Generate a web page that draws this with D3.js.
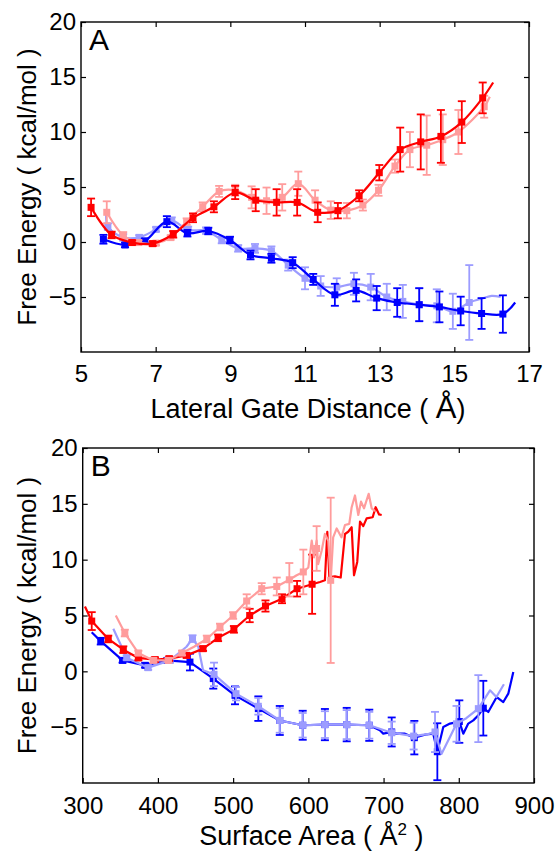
<!DOCTYPE html>
<html><head><meta charset="utf-8">
<script src="https://cdn.jsdelivr.net/npm/d3@7"></script>
<style>body{margin:0;background:#fff} svg{display:block} text{font-family:"Liberation Sans",Arial,Helvetica,sans-serif}</style>
</head><body><svg id="c" width="558" height="853"></svg>
<script>
// ---------- Panel A : Lateral Gate Distance ----------
const aTicksX = [5,7,9,11,13,15,17];
const yTicks = [-5,0,5,10,15,20];

const aRedX = [5.27,5.82,6.37,6.92,7.47,8.0,8.56,9.13,9.68,10.24,10.79,11.34,11.88,12.45,12.99,13.55,14.1,14.64,15.2,15.76];
const aRedY = [3.15,0.64,-0.05,-0.15,0.7,2.2,3.2,4.5,3.8,3.6,3.6,2.7,2.85,4.2,6.3,8.4,9.1,9.6,10.9,13.1];
const aRedE = [0.8,0.3,0.2,0.2,0.3,0.4,0.5,0.6,1.0,1.2,1.2,0.9,0.7,0.5,0.7,2.0,2.5,2.4,1.9,1.4];
const aRedLineX = [5.27,5.82,6.37,6.92,7.47,8.0,8.56,9.13,9.68,10.24,10.79,11.34,11.88,12.45,12.99,13.55,14.1,14.64,15.2,15.76,16.04];
const aRedLineY = [3.15,0.64,-0.05,-0.15,0.7,2.2,3.2,4.5,3.8,3.6,3.6,2.7,2.85,4.2,6.3,8.4,9.1,9.6,10.9,13.1,14.5];

const aPinkX = [5.69,6.13,6.54,7.01,7.4,7.83,8.26,8.7,9.13,9.57,9.97,10.39,10.82,11.27,11.69,12.12,12.55,12.97,13.41,13.81,14.26,14.69,15.11,15.8];
const aPinkY = [2.7,0.6,-0.05,-0.1,0.4,1.85,3.2,4.6,4.7,4.06,3.75,4.06,5.3,3.8,2.9,2.85,3.36,4.7,6.9,8.4,8.8,9.3,10.0,12.3];
const aPinkE = [1.0,0.3,0.2,0.2,0.2,0.3,0.4,0.5,0.5,1.0,1.2,1.2,1.1,0.9,0.8,0.7,0.5,0.5,0.6,1.6,2.7,2.3,2.0,1.0];
const aPinkLineX = [5.69,6.13,6.54,7.01,7.4,7.83,8.26,8.7,9.13,9.57,9.97,10.39,10.82,11.27,11.69,12.12,12.55,12.97,13.41,13.81,14.26,14.69,15.11,15.8,15.95];
const aPinkLineY = [2.7,0.6,-0.05,-0.1,0.4,1.85,3.2,4.6,4.7,4.06,3.75,4.06,5.3,3.8,2.9,2.85,3.36,4.7,6.9,8.4,8.8,9.3,10.0,12.3,13.2];

const aBlueX = [5.6,6.18,6.71,7.3,7.85,8.41,8.99,9.54,10.1,10.67,11.22,11.8,12.37,12.92,13.47,14.06,14.6,15.17,15.73,16.3];
const aBlueY = [0.25,-0.27,0.1,1.85,0.8,1.0,0.18,-1.18,-1.48,-1.88,-3.4,-4.8,-4.4,-5.1,-5.5,-5.7,-5.9,-6.27,-6.5,-6.55];
const aBlueE = [0.4,0.2,0.2,0.5,0.3,0.3,0.3,0.4,0.4,0.5,0.5,1.0,1.0,1.1,1.3,1.5,1.4,1.3,1.4,1.7];
const aBlueLineX = [5.6,6.18,6.71,7.3,7.85,8.41,8.99,9.54,10.1,10.67,11.22,11.8,12.37,12.92,13.47,14.06,14.6,15.17,15.73,16.3,16.63];
const aBlueLineY = [0.25,-0.27,0.1,1.85,0.8,1.0,0.18,-1.18,-1.48,-1.88,-3.4,-4.8,-4.4,-5.1,-5.5,-5.7,-5.9,-6.27,-6.5,-6.55,-5.5];

const aLBlueX = [5.72,6.13,6.56,7.01,7.43,7.87,8.35,8.77,9.21,9.66,10.1,10.55,11.0,11.42,11.85,12.31,12.76,13.19,13.62,14.06,14.53,14.96,15.4];
const aLBlueY = [1.4,0.42,0.42,1.15,1.94,1.1,1.03,0.18,-0.58,-0.58,-0.8,-2.1,-3.3,-4.0,-4.1,-3.8,-4.1,-5.0,-5.4,-5.7,-5.8,-6.3,-5.5];
const aLBlueE = [0.3,0.3,0.2,0.2,0.3,0.3,0.3,0.3,0.3,0.4,0.4,0.5,1.0,0.9,0.8,1.0,1.2,1.2,1.5,1.5,1.5,1.6,3.4];
const aLBlueLineX = [5.68,5.72,6.13,6.56,7.01,7.43,7.87,8.35,8.77,9.21,9.66,10.1,10.55,11.0,11.42,11.85,12.31,12.76,13.19,13.62,14.06,14.53,14.96,15.4,15.78,16.0,16.24];
const aLBlueLineY = [2.75,1.4,0.42,0.42,1.15,1.94,1.1,1.03,0.18,-0.58,-0.58,-0.8,-2.1,-3.3,-4.0,-4.1,-3.8,-4.1,-5.0,-5.4,-5.7,-5.8,-6.3,-5.5,-5.1,-4.9,-5.0];

// ---------- Panel B : Surface Area ----------
const bTicksX = [300,400,500,600,700,800,900];

const bRedX = [312,334,354,374,396,415,438,460,480,501,522,543,565,585,605];
const bRedY = [4.5,2.9,1.94,1.2,1.05,1.13,1.43,2.03,3.0,3.76,5.0,5.85,6.5,7.4,7.8];
const bRedE = [0.8,0.3,0.3,0.2,0.2,0.2,0.2,0.2,0.3,0.3,0.6,0.5,0.4,0.7,2.65];
const bRedLineX = [303,312,334,354,374,396,415,438,460,480,501,522,543,565,585,605,615.5,622,625.2,627.9,635.4,643,648.7,653,657.6,660.7,665,668.7,673,677.5,685.5,689.5,694,697.5];
const bRedLineY = [5.8,4.5,2.9,1.94,1.2,1.05,1.13,1.43,2.03,3.0,3.76,5.0,5.85,6.5,7.4,7.8,8.0,8.15,12.5,8.45,8.5,8.4,12.3,12.5,12.9,8.6,9.8,13.4,13.0,13.7,13.8,14.7,14.05,14.0];

const bPinkX = [356,374,394,414,432,465,482.5,500,518,538,558,574.7,593.3,611,629.7];
const bPinkY = [3.43,1.64,0.98,0.98,1.64,2.9,3.97,5.0,6.3,7.4,7.6,8.2,8.9,11.0,8.15];
const bPinkE = [0.3,0.2,0.2,0.2,0.2,0.3,0.3,0.3,0.6,0.5,0.8,1.5,2.0,2.0,7.4];
const bPinkLineX = [344,356,374,394,414,432,448,465,482.5,500,518,538,558,574.7,584.5,593.3,600,604.5,607.5,611,613,617.7,622,626.5,629.7,633,637.7,644,648.7,654.4,657.6,662,666.4,670,674,680.2,684.2,688.6];
const bPinkLineY = [5.0,3.43,1.64,0.98,0.98,1.64,2.2,2.9,3.97,5.0,6.3,7.4,7.6,8.2,8.6,8.9,9.3,11.7,10.2,11.7,9.6,10.8,12.3,11.7,8.15,12.0,12.8,12.0,13.1,13.2,14.7,15.75,14.0,15.2,14.6,15.9,14.6,14.35];

const bBlueX = [324,353,383,412.5,442.6,473.6,502.5,533.5,562,592.5,622,651,681,710.8,740.9,771.5,800.7,832.6];
const bBlueY = [2.7,0.98,0.54,0.98,0.83,-0.65,-2.15,-3.34,-4.4,-4.83,-4.77,-4.77,-4.83,-5.43,-5.94,-7.2,-4.5,-3.3];
const bBlueE = [0.3,0.2,0.2,0.2,0.75,0.9,0.8,1.1,1.3,1.3,1.4,1.5,1.4,1.3,1.5,2.55,1.9,2.45];
const bBlueLineX = [312,324,353,383,412.5,442.6,473.6,502.5,533.5,562,592.5,622,651,681,695,699.6,710.8,717.4,728.5,740.9,757.3,766,771.5,779.4,788.3,800.7,806,812.6,819.3,826,832.6,839.2,850.4,859.2,865.8,872.5];
const bBlueLineY = [3.5,2.7,0.98,0.54,0.98,0.83,-0.65,-2.15,-3.34,-4.4,-4.83,-4.77,-4.77,-4.83,-5.28,-5.58,-5.43,-5.58,-5.58,-5.94,-5.64,-5.58,-7.2,-4.98,-4.68,-4.5,-5.58,-4.68,-4.39,-3.94,-3.3,-3.64,-2.3,-2.75,-2.0,-0.05];

const bLBlueX = [358.5,387,416,446,474.6,503.8,533.5,562,592.5,622,651,681,710.8,740,768.4,797,826];
const bLBlueY = [1.22,0.33,0.98,2.93,-0.27,-2.0,-3.13,-4.4,-4.83,-4.77,-4.77,-4.83,-5.5,-5.8,-5.43,-4.7,-3.34];
const bLBlueE = [0.2,0.2,0.2,0.3,1.05,0.6,0.75,1.1,1.1,1.2,1.3,1.2,1.0,1.2,1.8,1.6,3.0];
const bLBlueLineX = [340.7,358.5,387,416,438,446,453.7,460,474.6,503.8,533.5,562,592.5,622,651,681,710.8,740,760,768.4,777,797,810,826,841.5,850,860];
const bLBlueLineY = [3.82,1.22,0.33,0.98,2.2,2.93,2.2,0.09,-0.27,-2.0,-3.13,-4.4,-4.83,-4.77,-4.77,-4.83,-5.5,-5.8,-5.6,-5.43,-7.4,-4.7,-4.2,-3.34,-1.7,-2.3,-1.16];

const colRed = "#ff0000", colPink = "#ff9c9c", colBlue = "#0000ff", colLBlue = "#9c9cff";

const svg = d3.select("#c");

function zip(xs, ys, es) { return xs.map((v, i) => ({x: v, y: ys[i], e: es ? es[i] : 0})); }

function drawPanel(cfg) {
  const x = d3.scaleLinear().domain(cfg.xDomain).range([cfg.left, cfg.right]);
  const y = d3.scaleLinear().domain([-10, 20]).range([cfg.bottom, cfg.top]);
  const g = svg.append("g");

  cfg.series.forEach(s => {
    const line = d3.line().x(d => x(d.x)).y(d => y(d.y)).curve(cfg.curve);
    g.append("path").datum(zip(s.lx, s.ly)).attr("d", line)
      .attr("fill", "none").attr("stroke", s.color).attr("stroke-width", 2.2)
      .attr("stroke-linejoin", "round");
    const pts = zip(s.mx, s.my, s.me);
    const eb = g.append("g").attr("stroke", s.color).attr("stroke-width", 1.8);
    pts.forEach(d => {
      const cx = x(d.x), y1 = y(d.y - d.e), y2 = y(d.y + d.e);
      eb.append("line").attr("x1", cx).attr("x2", cx).attr("y1", y1).attr("y2", y2);
      eb.append("line").attr("x1", cx - 4).attr("x2", cx + 4).attr("y1", y1).attr("y2", y1);
      eb.append("line").attr("x1", cx - 4).attr("x2", cx + 4).attr("y1", y2).attr("y2", y2);
    });
    g.append("g").selectAll("rect").data(pts).join("rect")
      .attr("x", d => x(d.x) - 3.5).attr("y", d => y(d.y) - 3.5)
      .attr("width", 7).attr("height", 7).attr("fill", s.color);
  });

  // axes
  const ax = (gen, tr) => {
    const a = svg.append("g").attr("transform", tr).call(gen);
    a.select(".domain").remove();
    a.selectAll("line").attr("stroke", "#000").attr("stroke-width", 1.2);
    a.selectAll("text").attr("font-size", 24).attr("font-family", '"Liberation Sans",Arial,sans-serif').attr("fill", "#000");
    return a;
  };
  ax(d3.axisBottom(x).tickValues(cfg.xTicks).tickSize(-5).tickPadding(cfg.xPad).tickFormat(d3.format("d")), `translate(0,${cfg.bottom})`);
  ax(d3.axisTop(x).tickValues(cfg.xTicks).tickSize(-5).tickFormat(""), `translate(0,${cfg.top})`);
  ax(d3.axisLeft(y).tickValues(yTicks).tickSize(-5).tickPadding(5), `translate(${cfg.left},0)`);
  ax(d3.axisRight(y).tickValues(yTicks).tickSize(-5).tickFormat(""), `translate(${cfg.right},0)`);

  svg.append("rect").attr("x", cfg.left).attr("y", cfg.top)
    .attr("width", cfg.right - cfg.left).attr("height", cfg.bottom - cfg.top)
    .attr("fill", "none").attr("stroke", "#000").attr("stroke-width", 1.4);

  svg.append("text").attr("x", cfg.left + 8).attr("y", cfg.top + 28)
    .attr("font-size", 30).text(cfg.letter);

  svg.append("text")
    .attr("transform", `translate(36,${(cfg.top + cfg.bottom) / 2}) rotate(-90)`)
    .attr("text-anchor", "middle").attr("font-size", 26).text("Free Energy ( kcal/mol )");

  const xl = svg.append("text").attr("x", (cfg.left + cfg.right) / 2 + 3).attr("y", cfg.xLabelY)
    .attr("text-anchor", "middle").attr("font-size", 27);
  cfg.xLabel(xl);
}

drawPanel({
  xDomain: [5, 17], left: 81, right: 529, top: 22, bottom: 352,
  xTicks: aTicksX, xPad: 13, xLabelY: 418, letter: "A",
  curve: d3.curveCatmullRom.alpha(0.5),
  xLabel: t => { t.append("tspan").text("Lateral Gate Distance ( ");
                 t.append("tspan").attr("font-size", 31).text("Å");
                 t.append("tspan").text(")"); },
  series: [
    {color: colLBlue, mx: aLBlueX, my: aLBlueY, me: aLBlueE, lx: aLBlueLineX, ly: aLBlueLineY},
    {color: colBlue, mx: aBlueX, my: aBlueY, me: aBlueE, lx: aBlueLineX, ly: aBlueLineY},
    {color: colPink, mx: aPinkX, my: aPinkY, me: aPinkE, lx: aPinkLineX, ly: aPinkLineY},
    {color: colRed, mx: aRedX, my: aRedY, me: aRedE, lx: aRedLineX, ly: aRedLineY}
  ]
});

drawPanel({
  xDomain: [300, 900], left: 82.7, right: 534, top: 448, bottom: 783,
  xTicks: bTicksX, xPad: 14, xLabelY: 845, letter: "B",
  curve: d3.curveLinear,
  xLabel: t => { t.append("tspan").text("Surface Area ( Å");
                 t.append("tspan").attr("dy", -10).attr("font-size", 17).text("2");
                 t.append("tspan").attr("dy", 10).text(" )"); },
  series: [
    {color: colBlue, mx: bBlueX, my: bBlueY, me: bBlueE, lx: bBlueLineX, ly: bBlueLineY},
    {color: colLBlue, mx: bLBlueX, my: bLBlueY, me: bLBlueE, lx: bLBlueLineX, ly: bLBlueLineY},
    {color: colRed, mx: bRedX, my: bRedY, me: bRedE, lx: bRedLineX, ly: bRedLineY},
    {color: colPink, mx: bPinkX, my: bPinkY, me: bPinkE, lx: bPinkLineX, ly: bPinkLineY}
  ]
});
</script></body></html>
